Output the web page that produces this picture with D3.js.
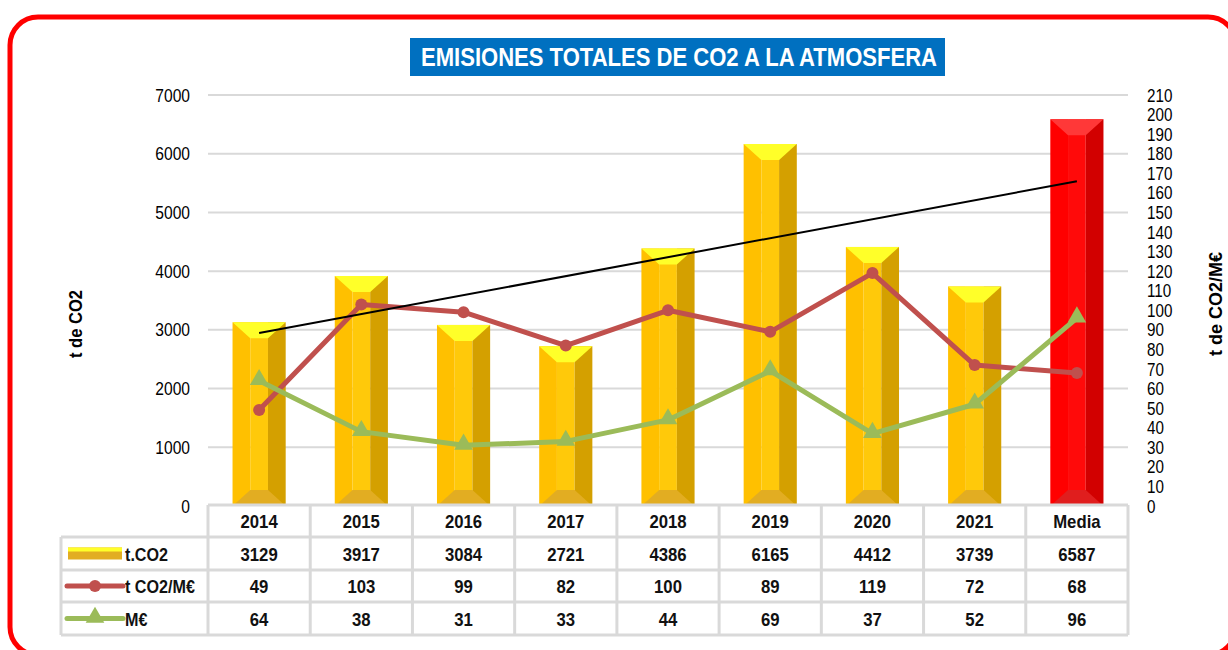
<!DOCTYPE html>
<html>
<head>
<meta charset="utf-8">
<script src="https://cdn.jsdelivr.net/npm/d3@7"></script>
<style>
body { margin: 0; background: #fff; }
text { font-family: "Liberation Sans", Arial, sans-serif; }
</style>
</head>
<body>
<svg id="chart" width="1228" height="650"></svg>
<script>
// data
const categories = ["2014", "2015", "2016", "2017", "2018", "2019", "2020", "2021", "Media"];
const tco2 = [3129, 3917, 3084, 2721, 4386, 6165, 4412, 3739, 6587];
const tco2PerMeur = [49, 103, 99, 82, 100, 89, 119, 72, 68];
const meur = [64, 38, 31, 33, 44, 69, 37, 52, 96];
const leftTicks = [0, 1000, 2000, 3000, 4000, 5000, 6000, 7000];
const rightTicks = [0, 10, 20, 30, 40, 50, 60, 70, 80, 90, 100, 110, 120, 130, 140, 150, 160, 170, 180, 190, 200, 210];
const trendEnds = [2945, 5531]; // linear trend of t.CO2, first and last category
const rowLabels = ["t.CO2", "t CO2/M€", "M€"];

var svg = d3.select("#chart");
var plotL = 208, plotR = 1128, plotT = 95, plotB = 506;

var x = d3.scaleBand().domain(categories).range([plotL, plotR]).paddingInner(0.48).paddingOuter(0.24);
var y = d3.scaleLinear().domain([0, 7000]).range([plotB, plotT]);
var y2 = d3.scaleLinear().domain([0, 210]).range([plotB, plotT]);
var cx = d => x(d) + x.bandwidth() / 2;

// squeeze text horizontally like the narrow font in the picture
function squeeze(sel, k) {
  sel.each(function() {
    var w = this.getComputedTextLength();
    d3.select(this).attr("textLength", w * k).attr("lengthAdjust", "spacingAndGlyphs");
  });
}

// frame
svg.append("rect").attr("x", 10).attr("y", 17).attr("width", 1226).attr("height", 638)
  .attr("rx", 28).attr("fill", "#fff").attr("stroke", "#ff0000").attr("stroke-width", 5);

// title
svg.append("rect").attr("x", 410).attr("y", 38).attr("width", 535).attr("height", 38).attr("fill", "#0070c0");
svg.append("text").attr("x", 421).attr("y", 66).attr("fill", "#fff")
  .attr("font-size", 25).attr("font-weight", "bold")
  .attr("textLength", 516).attr("lengthAdjust", "spacingAndGlyphs")
  .text("EMISIONES TOTALES DE CO2 A LA ATMOSFERA");

// gridlines
svg.append("g").selectAll("line").data(leftTicks.filter(d => d > 0)).enter().append("line")
  .attr("x1", plotL).attr("x2", plotR).attr("y1", d => y(d)).attr("y2", d => y(d))
  .attr("stroke", "#d9d9d9").attr("stroke-width", 2);

// left axis
var ax = svg.append("g").attr("transform", "translate(" + 190 + ",0)")
  .call(d3.axisLeft(y).tickValues(leftTicks).tickFormat(d3.format("d")).tickSize(0).tickPadding(0));
ax.select(".domain").remove();
ax.selectAll("text").attr("font-size", 19).attr("fill", "#000").attr("font-family", "Liberation Sans, Arial, sans-serif");
squeeze(ax.selectAll("text"), 0.82);

// right axis
var ax2 = svg.append("g").attr("transform", "translate(" + 1147 + ",0)")
  .call(d3.axisRight(y2).tickValues(rightTicks).tickFormat(d3.format("d")).tickSize(0).tickPadding(0));
ax2.select(".domain").remove();
ax2.selectAll("text").attr("font-size", 19).attr("fill", "#000").attr("font-family", "Liberation Sans, Arial, sans-serif");
squeeze(ax2.selectAll("text"), 0.8);

// axis titles
svg.append("text").attr("transform", "translate(82,324) rotate(-90)").attr("text-anchor", "middle")
  .attr("font-size", 18).attr("font-weight", "bold").attr("textLength", 68).attr("lengthAdjust", "spacingAndGlyphs")
  .text("t de CO2");
svg.append("text").attr("transform", "translate(1222,304) rotate(-90)").attr("text-anchor", "middle")
  .attr("font-size", 19).attr("font-weight", "bold").attr("textLength", 104).attr("lengthAdjust", "spacingAndGlyphs")
  .text("t de CO2/M€");

// bevelled bars
var gold = { left: "#ffc000", mid: "#ffc90a", side: "#d4a000", top: "#ffff29", bot: "#e2ad22" };
var red = { left: "#ff0000", mid: "#ff0a0a", side: "#d20000", top: "#ff3838", bot: "#e01e1e" };
var bars = svg.append("g").selectAll("g").data(tco2).enter().append("g");
bars.each(function(v, i) {
  var g = d3.select(this);
  var c = categories[i] === "Media" ? red : gold;
  var x0 = x(categories[i]), w = x.bandwidth(), t = w / 3;
  var y0 = y(v), y1 = y(0);
  g.append("rect").attr("x", x0).attr("y", y0).attr("width", t).attr("height", y1 - y0).attr("fill", c.left);
  g.append("rect").attr("x", x0 + t).attr("y", y0).attr("width", t).attr("height", y1 - y0).attr("fill", c.mid);
  g.append("rect").attr("x", x0 + 2 * t).attr("y", y0).attr("width", t).attr("height", y1 - y0).attr("fill", c.side);
  var d = 16;
  g.append("path").attr("fill", c.top)
    .attr("d", "M" + x0 + "," + y0 + "L" + (x0 + w) + "," + y0 + "L" + (x0 + 2 * t) + "," + (y0 + d) + "L" + (x0 + t) + "," + (y0 + d) + "Z");
  g.append("path").attr("fill", c.bot)
    .attr("d", "M" + x0 + "," + y1 + "L" + (x0 + w) + "," + y1 + "L" + (x0 + 2 * t) + "," + (y1 - d) + "L" + (x0 + t) + "," + (y1 - d) + "Z");
});

// lines on the secondary axis
var line = d3.line().x((d, i) => cx(categories[i])).y(d => y2(d));
svg.append("path").datum(tco2PerMeur).attr("d", line).attr("fill", "none")
  .attr("stroke", "#c0504d").attr("stroke-width", 5).attr("stroke-linejoin", "round");
svg.append("g").selectAll("circle").data(tco2PerMeur).enter().append("circle")
  .attr("cx", (d, i) => cx(categories[i])).attr("cy", d => y2(d)).attr("r", 6).attr("fill", "#c0504d");

svg.append("path").datum(meur).attr("d", line).attr("fill", "none")
  .attr("stroke", "#9bbb59").attr("stroke-width", 5).attr("stroke-linejoin", "round");
var tri = d3.symbol().type(d3.symbolTriangle).size(150);
svg.append("g").selectAll("path").data(meur).enter().append("path")
  .attr("d", tri).attr("fill", "#9bbb59")
  .attr("transform", (d, i) => "translate(" + cx(categories[i]) + "," + (y2(d) - 1) + ")");

// trendline
svg.append("line")
  .attr("x1", cx(categories[0])).attr("y1", y(trendEnds[0]))
  .attr("x2", cx(categories[categories.length - 1])).attr("y2", y(trendEnds[1]))
  .attr("stroke", "#000").attr("stroke-width", 2);

// data table
var rows = [505, 537, 570, 602, 635];
var legL = 61;
var tbl = svg.append("g").attr("stroke", "#d9d9d9").attr("stroke-width", 3);
tbl.append("line").attr("x1", plotL).attr("x2", plotR).attr("y1", rows[0]).attr("y2", rows[0]);
rows.slice(1).forEach(r => tbl.append("line").attr("x1", legL).attr("x2", plotR).attr("y1", r).attr("y2", r));
var step = x.step();
d3.range(categories.length + 1).forEach(i => {
  tbl.append("line").attr("x1", plotL + i * step).attr("x2", plotL + i * step).attr("y1", rows[0]).attr("y2", rows[4]);
});
tbl.append("line").attr("x1", legL).attr("x2", legL).attr("y1", rows[1]).attr("y2", rows[4]);

var tableRows = [categories, tco2, tco2PerMeur, meur];
tableRows.forEach((vals, r) => {
  var t = svg.append("g").selectAll("text").data(vals).enter().append("text")
    .attr("x", (d, i) => cx(categories[i])).attr("y", (rows[r] + rows[r + 1]) / 2 + 7)
    .attr("text-anchor", "middle").attr("font-size", 19).attr("font-weight", "bold").attr("fill", "#111")
    .text(d => d);
  squeeze(t, 0.88);
});

// legend keys
var mid = r => (rows[r] + rows[r + 1]) / 2;
svg.append("rect").attr("x", 68).attr("y", mid(1) - 6).attr("width", 54).attr("height", 12).attr("fill", "#e2ad22");
svg.append("rect").attr("x", 68).attr("y", mid(1) - 6).attr("width", 54).attr("height", 4).attr("fill", "#ffff29");
svg.append("line").attr("x1", 67).attr("x2", 123).attr("y1", mid(2)).attr("y2", mid(2))
  .attr("stroke", "#c0504d").attr("stroke-width", 5).attr("stroke-linecap", "round");
svg.append("circle").attr("cx", 95).attr("cy", mid(2)).attr("r", 6).attr("fill", "#c0504d");
svg.append("line").attr("x1", 67).attr("x2", 123).attr("y1", mid(3)).attr("y2", mid(3))
  .attr("stroke", "#9bbb59").attr("stroke-width", 5).attr("stroke-linecap", "round");
svg.append("path").attr("d", tri).attr("fill", "#9bbb59").attr("transform", "translate(95," + (mid(3) - 1) + ")");
var lt = svg.append("g").selectAll("text").data(rowLabels).enter().append("text")
  .attr("x", 125).attr("y", (d, i) => mid(i + 1) + 7).attr("font-size", 19).attr("font-weight", "bold").attr("fill", "#111")
  .text(d => d);
squeeze(lt, 0.85);
</script>
</body>
</html>
